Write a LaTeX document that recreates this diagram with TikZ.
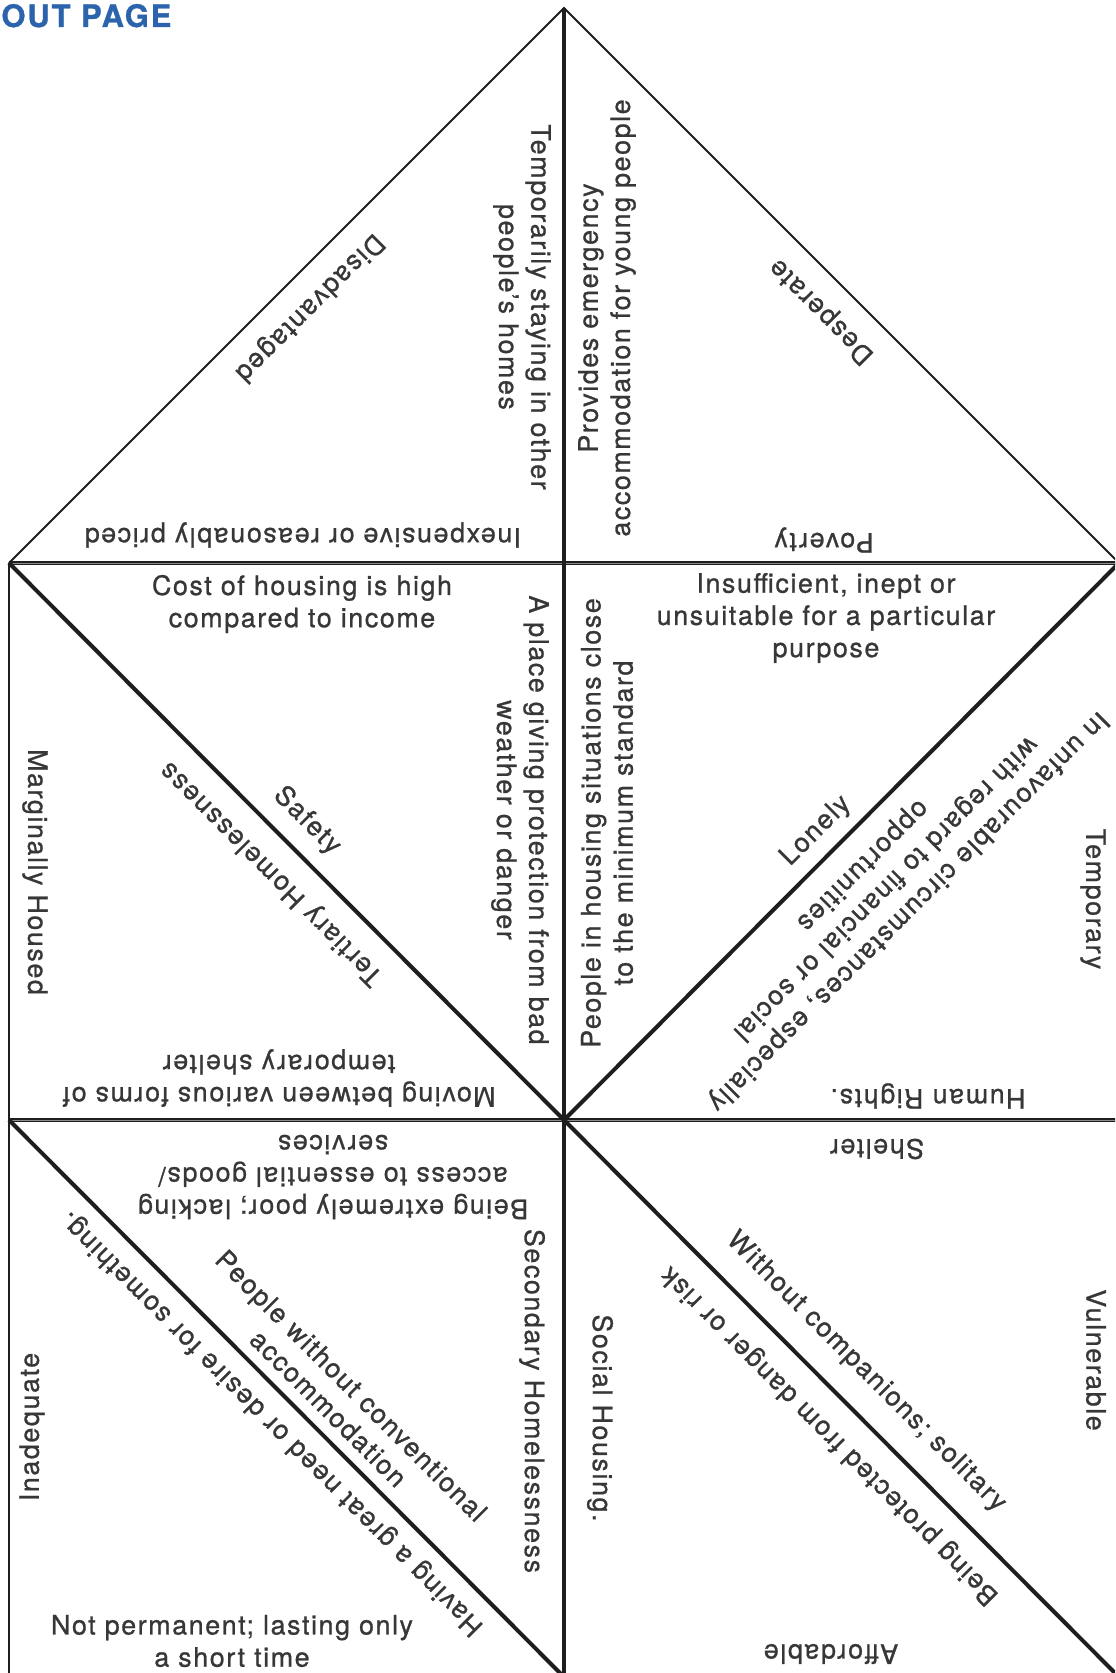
\documentclass[tikz,border=0pt]{standalone}
\usepackage{fontspec}
\setmainfont[LetterSpace=6, FakeBold=0.9]{TeX Gyre Heros}
\usetikzlibrary{positioning}
\definecolor{cpBlue}{RGB}{43,99,173}
\definecolor{cpInk}{RGB}{30,30,30}
\definecolor{cpText}{RGB}{55,55,55}
\definecolor{cpGap}{RGB}{140,140,140}
\tikzset{
    base/.style={font=\fontsize{13.4}{16.1}\selectfont, align=center},
    word/.style={base, text=cpText, inner sep=0pt},
    rim/.style={draw=cpInk, line width=1pt},
    spine/.style={draw=cpInk, line width=2pt},
    crease/.style={draw=cpInk, line width=0.9pt, double=cpGap, double distance=0.5pt}
}
\begin{document}
\begin{tikzpicture}[x=0.5pt, y=-0.5pt]
  \useasboundingbox (0,0) rectangle (1115,1673);
  \fill[white] (0,0) rectangle (1115,1673);
  \clip (0,0) rectangle (1115,1673);

  % Grid corners
  \coordinate (apex) at (564,8);
  \coordinate (l1) at (9,563);    \coordinate (m1) at (564,563);  \coordinate (r1) at (1119,563);
  \coordinate (l2) at (9,1120);   \coordinate (m2) at (564,1120); \coordinate (r2) at (1119,1120);
  \coordinate (l3) at (9,1677);   \coordinate (m3) at (564,1677); \coordinate (r3) at (1119,1677);

  % Outline and folds
  \draw[rim] (l1) -- (apex) -- (r1);
  \draw[rim] (l1) -- (l3);
  \draw[rim] (r1) -- (r3);
  \draw[crease] (l1) -- (r1);
  \draw[crease] (l2) -- (r2);
  \draw[spine] (apex) -- (m3);
  \draw[spine] (l1) -- (m2) -- (r1);
  \draw[spine] (l2) -- (m3);
  \draw[spine] (m2) -- (r3);

  % Heading
  \node[base, anchor=base west, inner sep=0pt, text=cpBlue,
        font=\fontsize{15.5}{17}\selectfont\bfseries] (outp) at (1,27) {OUT PAGE};

  % Top triangle
  \node[word, rotate=225] (dis) at (309,307) {Disadvantaged};
  \node[word, rotate=-90] (tmp) at (522,307) {Temporarily staying in other\\people’s homes};
  \node[word, rotate=180] (inexp) at (303,535) {Inexpensive or reasonably priced};
  \node[word, rotate=90] (prov) at (607,318) {Provides emergency\\accommodation for young people};
  \node[word, rotate=135] (desp) at (822,311) {Desperate};
  \node[word, rotate=180] (pov) at (824,540) {Poverty};

  % Middle row, left square
  \node[word] (cost) at (302,604) {Cost of housing is high\\compared to income};
  \node[word, rotate=-90] (place) at (520,820) {A place giving protection from bad\\weather or danger};
  \node[word, rotate=-45] (safe) at (307,821) {Safety};
  \node[word, rotate=135] (tert) at (272,873) {Tertiary Homelessness};
  \node[word, rotate=-90] (marg) at (35,872) {Marginally Housed};
  \node[word, rotate=180] (move) at (279,1078) {Moving between various forms of\\temporary shelter};

  % Middle row, right square
  \node[word] (insuf) at (826,618) {Insufficient, inept or\\unsuitable for a particular\\purpose};
  \node[word, rotate=90] (ppl) at (607,823) {People in housing situations close\\to the minimum standard};
  \node[word, rotate=45] (lone) at (816,831) {Lonely};
  \node[word, rotate=225] (unfav) at (885,888) {In unfavourable circumstances, especially\\with regard to financial or social\\opportunities};
  \node[word, rotate=-90] (temp) at (1093,899) {Temporary};
  \node[word, rotate=180] (hum) at (928,1096) {Human Rights.};

  % Bottom row, left square
  \node[word, rotate=180] (poor) at (333,1177) {Being extremely poor; lacking\\access to essential goods/\\services};
  \node[word, rotate=-90] (sec) at (532,1401) {Secondary Homelessness};
  \node[word, rotate=-45] (conv) at (340,1397) {People without conventional\\accommodation};
  \node[word, rotate=135] (need) at (272,1423) {Having a great need or desire for something.};
  \node[word, rotate=90] (inad) at (32,1427) {Inadequate};
  \node[word] (notp) at (232,1641) {Not permanent; lasting only\\a short time};

  % Bottom row, right square
  \node[word, rotate=180] (shel) at (877,1149) {Shelter};
  \node[word, rotate=-45] (comp) at (866,1372) {Without companions; solitary};
  \node[word, rotate=135] (prot) at (830,1435) {Being protected from danger or risk};
  \node[word, rotate=-90] (vuln) at (1096,1360) {Vulnerable};
  \node[word, rotate=-90] (soc) at (600,1418) {Social Housing.};
  \node[word, rotate=180] (aff) at (831,1654) {Affordable};
\end{tikzpicture}
\end{document}
